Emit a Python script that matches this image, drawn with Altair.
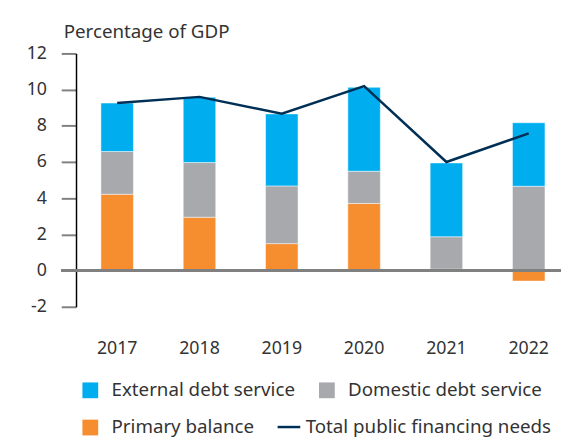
import altair as alt
import pandas as pd

years = ["2017", "2018", "2019", "2020", "2021", "2022"]
external = [2.68, 3.61, 3.98, 4.64, 4.08, 3.51]
domestic = [2.36, 3.02, 3.19, 1.78, 1.79, 4.66]
primary = [4.22, 2.95, 1.49, 3.71, 0.08, -0.58]
total = [9.26, 9.60, 8.67, 10.19, 6.00, 7.58]
y_ticks = [-2, 0, 2, 4, 6, 8, 10, 12]

series_names = ["External debt service", "Domestic debt service", "Primary balance"]
series_colors = ["#00AEEF", "#A7A9AC", "#F68D2E"]
line_name = "Total public financing needs"
line_color = "#002F56"
text_color = "#333333"
FONT = "Noto Sans"

rows = []
for i, y in enumerate(years):
    rows.append({"Year": y, "Series": "Primary balance", "Value": primary[i], "Order": 1})
    rows.append({"Year": y, "Series": "Domestic debt service", "Value": domestic[i], "Order": 2})
    rows.append({"Year": y, "Series": "External debt service", "Value": external[i], "Order": 3})
bars_df = pd.DataFrame(rows)
line_df = pd.DataFrame({"Year": years, "Total": total, "Label": [line_name] * len(years)})

xscale = alt.Scale(domain=years, range=[0, 501], paddingInner=0.605, paddingOuter=0.3025)
yscale = alt.Scale(domain=[-2, 12], nice=False)

xaxis = alt.Axis(title=None, labelAngle=0, domain=False, ticks=False, labelPadding=33,
                 labelFontSize=18, labelColor=text_color, labelFont=FONT)
yaxis = alt.Axis(title="Percentage of GDP", values=y_ticks, tickCount=20, grid=False,
                 labelExpr="'' + datum.value",
                 domainColor="#000000", domainWidth=1.5, tickColor="#808080", tickWidth=2,
                 tickSize=15, labelPadding=15, labelFontSize=18, labelColor=text_color,
                 labelFont=FONT, labelOverlap=False, labelFlush=False,
                 titleAngle=0, titleAlign="left", titleBaseline="alphabetic",
                 titleX=-13, titleY=-16, titleFontSize=19, titleFontWeight="normal",
                 titleColor=text_color, titleFont=FONT)

bars = alt.Chart(bars_df).mark_bar(stroke="white", strokeWidth=0.5).encode(
    x=alt.X("Year:N", scale=xscale, axis=xaxis),
    y=alt.Y("Value:Q", stack="zero", scale=yscale, axis=yaxis),
    color=alt.Color("Series:N",
                    scale=alt.Scale(domain=series_names, range=series_colors),
                    legend=alt.Legend(title=None, orient="none", legendX=5, legendY=332,
                                      direction="horizontal", columns=2,
                                      symbolType="square", symbolSize=256,
                                      symbolStrokeWidth=0, labelFontSize=19,
                                      labelColor=text_color, labelFont=FONT, labelOffset=12,
                                      labelLimit=400, columnPadding=22, rowPadding=18)),
    order=alt.Order("Order:Q"),
)

zero = alt.Chart(line_df).mark_rule(color="#808080", strokeWidth=2.5).encode(
    y=alt.datum(0), x=alt.value(-15), x2=alt.value(492)
)

line = alt.Chart(line_df).mark_line(strokeWidth=2.5).encode(
    x=alt.X("Year:N", scale=xscale, axis=xaxis),
    y=alt.Y("Total:Q", scale=yscale, axis=yaxis),
    stroke=alt.Stroke("Label:N", scale=alt.Scale(domain=[line_name], range=[line_color]),
                      legend=alt.Legend(title=None, orient="none", legendX=203, legendY=366,
                                        symbolType="stroke", symbolSize=529,
                                        symbolStrokeWidth=2.5, labelFontSize=19,
                                        labelColor=text_color, labelFont=FONT, labelOffset=4,
                                        labelLimit=400)),
)

chart = alt.layer(bars, zero, line).resolve_scale(color="independent", stroke="independent").properties(
    width=492, height=257,
    autosize=alt.AutoSizeParams(type="none"),
    padding={"left": 69, "top": 43, "right": 0, "bottom": 129},
).configure_view(stroke=None).configure_axis(labelOverlap=False)

chart.save("out.html", embed_options={"renderer": "svg", "actions": False})
